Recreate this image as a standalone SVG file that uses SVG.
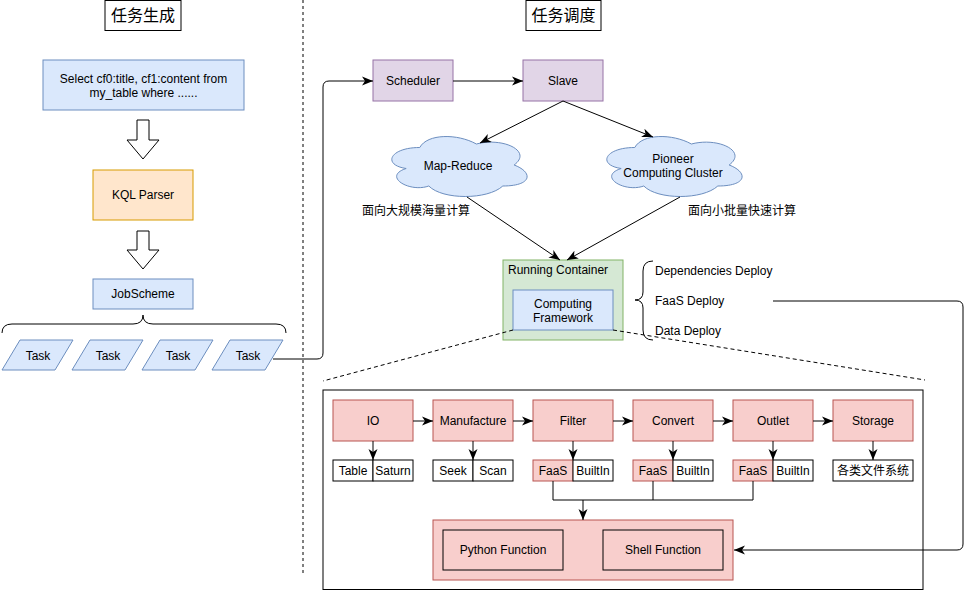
<svg xmlns="http://www.w3.org/2000/svg" width="972" height="591" viewBox="0 0 972 591">
<defs>
<marker id="arr" markerUnits="userSpaceOnUse" markerWidth="12" markerHeight="10" viewBox="0 0 12 10" refX="11" refY="5" orient="auto">
<path d="M0,0.5 L11,5 L0,9.5 L3,5 Z" fill="#000"/>
</marker>
<style>
text{font-family:"Liberation Sans",Arial,"Noto Sans CJK SC",sans-serif;font-size:12px;fill:#000}
.cjk{font-family:"Noto Sans CJK SC","Liberation Sans",sans-serif}
.mid{text-anchor:middle}
.title{font-size:16px}
.blue{fill:#dae8fc;stroke:#6c8ebf}
.orange{fill:#ffe6cc;stroke:#d79b00}
.purple{fill:#e1d5e7;stroke:#9673a6}
.green{fill:#d5e8d4;stroke:#82b366}
.red{fill:#f8cecc;stroke:#b85450}
.redk{fill:#f8cecc;stroke:#000}
.wht{fill:#fff;stroke:#000}
.line{fill:none;stroke:#000;stroke-width:1}
.dash{fill:none;stroke:#000;stroke-dasharray:4 3}
.dot{fill:none;stroke:#000;stroke-dasharray:3 3}
.hollow{fill:#fff;stroke:#000}
</style>
</defs>
<rect width="972" height="591" fill="#fff"/>

<!-- divider -->
<line class="dot" x1="303" y1="0" x2="303" y2="573"/>

<g id="title-left"><rect class="wht" x="105" y="0.5" width="76" height="30"/><text class="cjk title mid" x="143" y="21">任务生成</text></g>
<g id="title-right"><rect class="wht" x="526" y="0.5" width="75" height="30"/><text class="cjk title mid" x="563.5" y="21">任务调度</text></g>

<g id="select"><rect class="blue" x="43" y="60" width="201" height="50"/><text class="mid" x="143.5" y="83">Select cf0:title, cf1:content from</text><text class="mid" x="143.5" y="97">my_table where ......</text></g>
<g id="hollow1"><polygon class="hollow" points="137,120 149,120 149,140 159,140 143,159 127,140 137,140"/></g>
<g id="kql"><rect class="orange" x="93" y="170" width="100" height="50"/><text class="mid" x="143" y="199">KQL Parser</text></g>
<g id="hollow2"><polygon class="hollow" points="137,231 149,231 149,250 159,250 143,269 127,250 137,250"/></g>
<g id="jobscheme"><rect class="blue" x="93" y="279" width="100" height="30"/><text class="mid" x="143" y="298">JobScheme</text></g>
<g id="brace-left"><path class="line" d="M2,333 Q2,324 12,324 L133,324 Q143,324 143,315 Q143,324 153,324 L276,324 Q286,324 286,333"/></g>

<g id="task1"><polygon class="blue" points="20,340 73,340 55,370 2,370"/><text class="mid" x="38" y="360">Task</text></g>
<g id="task2"><polygon class="blue" points="90,340 143,340 125,370 72,370"/><text class="mid" x="108" y="360">Task</text></g>
<g id="task3"><polygon class="blue" points="160,340 213,340 195,370 142,370"/><text class="mid" x="178" y="360">Task</text></g>
<g id="task4"><polygon class="blue" points="230,340 283,340 265,370 212,370"/><text class="mid" x="248" y="360">Task</text></g>

<g id="scheduler"><rect class="purple" x="373" y="60" width="80" height="41"/><text class="mid" x="413" y="85">Scheduler</text></g>
<g id="slave"><rect class="purple" x="523" y="60" width="80" height="41"/><text class="mid" x="563" y="85">Slave</text></g>

<g id="mapreduce"><path class="blue" d="M419.75,147.5 C389.55,147.5 382,165 406.16,168.5 C382,176.2 409.18,193 428.81,186 C442.4,200 487.7,200 502.8,186 C533,186 533,172 514.13,165 C533,151 502.8,137 476.38,144 C457.5,133.5 427.3,133.5 419.75,147.5 Z"/><text class="mid" x="458" y="170">Map-Reduce</text></g>
<g id="pioneer"><path class="blue" d="M634.75,147.5 C604.55,147.5 597,165 621.16,168.5 C597,176.2 624.18,193 643.81,186 C657.4,200 702.7,200 717.8,186 C748,186 748,172 729.13,165 C748,151 717.8,137 691.38,144 C672.5,133.5 642.3,133.5 634.75,147.5 Z"/><text class="mid" x="673" y="163">Pioneer</text><text class="mid" x="673" y="177">Computing Cluster</text></g>
<g id="label-mr"><text class="cjk" x="362" y="215">面向大规模海量计算</text></g>
<g id="label-pc"><text class="cjk" x="688" y="215">面向小批量快速计算</text></g>

<g id="running-container"><rect class="green" x="503" y="260" width="120" height="80"/><text x="508" y="274">Running Container</text></g>
<g id="computing-framework"><rect class="blue" x="513" y="290" width="100" height="40"/><text class="mid" x="563" y="308">Computing</text><text class="mid" x="563" y="322">Framework</text></g>

<g id="brace-right"><path class="line" d="M653,261 Q643,261 643,271 L643,292 Q643,300 635,300 Q643,300 643,308 L643,330 Q643,340 653,340"/></g>
<g id="deploy-texts"><text x="655" y="275">Dependencies Deploy</text><text x="655" y="305">FaaS Deploy</text><text x="655" y="335">Data Deploy</text></g>

<g id="pipeline-box"><rect fill="none" stroke="#000" x="323" y="390" width="600" height="199.5"/></g>

<g id="io"><rect class="red" x="333" y="400" width="80" height="41"/><text class="mid" x="373" y="425">IO</text></g>
<g id="manufacture"><rect class="red" x="433" y="400" width="80" height="41"/><text class="mid" x="473" y="425">Manufacture</text></g>
<g id="filter"><rect class="red" x="533" y="400" width="80" height="41"/><text class="mid" x="573" y="425">Filter</text></g>
<g id="convert"><rect class="red" x="633" y="400" width="80" height="41"/><text class="mid" x="673" y="425">Convert</text></g>
<g id="outlet"><rect class="red" x="733" y="400" width="80" height="41"/><text class="mid" x="773" y="425">Outlet</text></g>
<g id="storage"><rect class="red" x="833" y="400" width="80" height="41"/><text class="mid" x="873" y="425">Storage</text></g>

<g id="io-subs"><rect class="wht" x="333" y="460" width="40" height="21"/><text class="mid" x="353" y="475">Table</text><rect class="wht" x="373" y="460" width="40" height="21"/><text class="mid" x="393" y="475">Saturn</text></g>
<g id="manufacture-subs"><rect class="wht" x="433" y="460" width="40" height="21"/><text class="mid" x="453" y="475">Seek</text><rect class="wht" x="473" y="460" width="40" height="21"/><text class="mid" x="493" y="475">Scan</text></g>
<g id="filter-subs"><rect class="red" x="533" y="460" width="40" height="21"/><text class="mid" x="553" y="475">FaaS</text><rect class="wht" x="573" y="460" width="40" height="21"/><text class="mid" x="593" y="475">BuiltIn</text></g>
<g id="convert-subs"><rect class="red" x="633" y="460" width="40" height="21"/><text class="mid" x="653" y="475">FaaS</text><rect class="wht" x="673" y="460" width="40" height="21"/><text class="mid" x="693" y="475">BuiltIn</text></g>
<g id="outlet-subs"><rect class="red" x="733" y="460" width="40" height="21"/><text class="mid" x="753" y="475">FaaS</text><rect class="wht" x="773" y="460" width="40" height="21"/><text class="mid" x="793" y="475">BuiltIn</text></g>
<g id="storage-sub"><rect class="wht" x="833" y="460" width="80" height="21"/><text class="cjk mid" x="873" y="475">各类文件系统</text></g>

<g id="functions"><rect class="red" x="433" y="520" width="300" height="60"/></g>
<g id="python-function"><rect class="redk" x="443" y="530" width="120" height="40"/><text class="mid" x="503" y="554">Python Function</text></g>
<g id="shell-function"><rect class="redk" x="603" y="530" width="120" height="40"/><text class="mid" x="663" y="554">Shell Function</text></g>

<g id="connectors">
<path class="line" d="M273,359 L317,359 Q323,359 323,353 L323,87 Q323,81 329,81 L373,81" marker-end="url(#arr)"/>
<line class="line" x1="453" y1="81" x2="523" y2="81" marker-end="url(#arr)"/>
<line class="line" x1="563" y1="101" x2="480" y2="143" marker-end="url(#arr)"/>
<line class="line" x1="563" y1="101" x2="653" y2="137" marker-end="url(#arr)"/>
<line class="line" x1="467" y1="197" x2="560" y2="260" marker-end="url(#arr)"/>
<line class="line" x1="680" y1="197" x2="567" y2="260" marker-end="url(#arr)"/>
<path class="line" d="M773,301 L957,301 Q963,301 963,307 L963,544 Q963,550 957,550 L734,550" marker-end="url(#arr)"/>
<line class="dash" x1="513" y1="330" x2="323" y2="381"/>
<line class="dash" x1="613" y1="330" x2="925" y2="380"/>
<line class="line" x1="413" y1="421" x2="433" y2="421" marker-end="url(#arr)"/>
<line class="line" x1="513" y1="421" x2="533" y2="421" marker-end="url(#arr)"/>
<line class="line" x1="613" y1="421" x2="633" y2="421" marker-end="url(#arr)"/>
<line class="line" x1="713" y1="421" x2="733" y2="421" marker-end="url(#arr)"/>
<line class="line" x1="813" y1="421" x2="833" y2="421" marker-end="url(#arr)"/>
<line class="line" x1="373" y1="441" x2="373" y2="460" marker-end="url(#arr)"/>
<line class="line" x1="473" y1="441" x2="473" y2="460" marker-end="url(#arr)"/>
<line class="line" x1="573" y1="441" x2="573" y2="460" marker-end="url(#arr)"/>
<line class="line" x1="673" y1="441" x2="673" y2="460" marker-end="url(#arr)"/>
<line class="line" x1="773" y1="441" x2="773" y2="460" marker-end="url(#arr)"/>
<line class="line" x1="873" y1="441" x2="873" y2="460" marker-end="url(#arr)"/>
<path class="line" d="M553,481 L553,500 L753,500 L753,481 M653,481 L653,500"/>
<line class="line" x1="583" y1="500" x2="583" y2="520" marker-end="url(#arr)"/>
</g>
</svg>
